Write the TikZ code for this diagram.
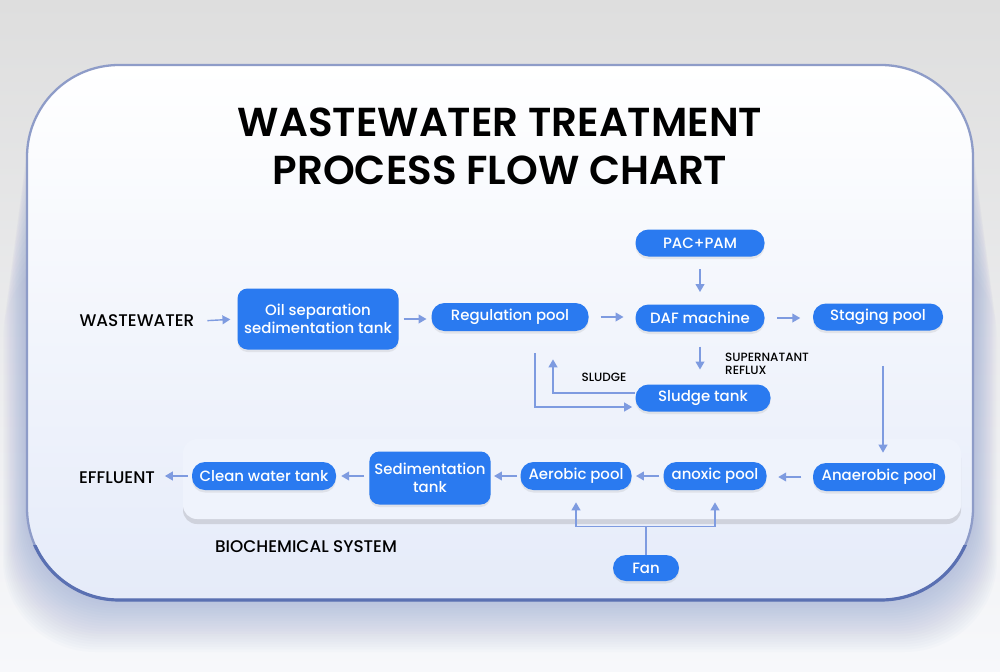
\documentclass[tikz,border=0pt]{standalone}
\usepackage{fontspec}
\setmainfont{Poppins}[UprightFont=* Medium, BoldFont=* SemiBold]
\usetikzlibrary{shadows,arrows.meta,calc}

\definecolor{boxblue}{HTML}{2A7AF0}
\definecolor{flowline}{HTML}{7E9BE0}
\definecolor{cardedge}{HTML}{8E9CC8}
\definecolor{cardfoot}{HTML}{5A70B2}
\definecolor{cardlow}{HTML}{E5EBF9}
\definecolor{glow}{HTML}{6F86C2}
\definecolor{panelfill}{HTML}{EFF3FC}
\definecolor{bgtop}{HTML}{DEDEDE}
\definecolor{bgbottom}{HTML}{F7F8FB}

\tikzset{
  stage/.style={fill=boxblue, text=white, rounded corners=2.6mm,
    minimum height=5.4mm, inner sep=1mm, align=center,
    font=\fontsize{8.5}{10.5}\selectfont,
    drop shadow={opacity=0.15, shadow xshift=0pt, shadow yshift=-0.5mm}},
  bigstage/.style={stage, rounded corners=2mm},
  tag/.style={font=\fontsize{9.6}{11}\selectfont, text=black},
  flow/.style={flowline, line width=0.8pt, -{Triangle[width=5pt,length=4.5pt]}},
  pipe/.style={flowline, line width=0.8pt}
}

% short arrow in the middle of the gap between two anchors
\newcommand{\gapflow}[2]{%
  \coordinate (mid) at ($(#1)!0.5!(#2)$);
  \draw[flow] ($(mid)!2.3mm!(#1)$) -- ($(mid)!2.3mm!(#2)$);}

\begin{document}
\begin{tikzpicture}[x=0.2mm, y=-0.2mm]
  \useasboundingbox (0,0) rectangle (1000,672);

  % backdrop and card
  \shade[top color=bgtop, bottom color=bgbottom] (0,0) rectangle (1000,672);
  \foreach \s in {1,...,20}
    \fill[glow, opacity=0.022, rounded corners=18.4mm]
      (27-\s*1.2, 65+\s*9) rectangle (973+\s*1.2, 600+\s*2.6);
  \shadedraw[top color=white, bottom color=cardlow, draw=cardedge,
    line width=1.3pt, rounded corners=18.4mm] (27,65) rectangle (973,600);
  \begin{scope}
    \clip (0,545) rectangle (1000,672);
    \draw[cardfoot, line width=1.8pt, rounded corners=18.4mm]
      (27,65) rectangle (973,600);
  \end{scope}

  \node[font=\fontsize{23}{27.5}\selectfont\bfseries, align=center] (title)
    at (500,146) {WASTEWATER TREATMENT\\PROCESS FLOW CHART};

  % biochemical system panel
  \path[fill=panelfill, rounded corners=2.8mm,
    drop shadow={opacity=0.22, shadow xshift=0pt, shadow yshift=-1mm,
      fill=black!55}]
    (183,439) rectangle (961,519);

  % first line
  \node[tag] (wastewater) at (137,321) {WASTEWATER};
  \node[bigstage, minimum width=32.2mm, minimum height=12.2mm] (oilsep)
    at (318,319) {Oil separation\\sedimentation tank};
  \node[stage, minimum width=31.4mm, minimum height=5.6mm] (regulation)
    at (510,317) {Regulation pool};
  \node[stage, minimum width=25.8mm] (daf) at (700,318) {DAF machine};
  \node[stage, minimum width=25.8mm] (pac) at (700,243) {PAC+PAM};
  \node[stage, minimum width=26mm] (staging) at (878,317) {Staging pool};
  \node[stage, minimum width=27mm] (sludge) at (703,398) {Sludge tank};

  % second line
  \node[stage, minimum width=26.4mm, minimum height=5.6mm] (anaerobic)
    at (879,477) {Anaerobic pool};
  \node[stage, minimum width=20.6mm, minimum height=5.6mm] (anoxic)
    at (715,476) {anoxic pool};
  \node[stage, minimum width=22.2mm, minimum height=5.6mm] (aerobic)
    at (576,476) {Aerobic pool};
  \node[bigstage, minimum width=24.2mm, minimum height=10.6mm] (sedim)
    at (430,478) {Sedimentation\\tank};
  \node[stage, minimum width=28.8mm, minimum height=5.6mm] (clean)
    at (264,476) {Clean water tank};
  \node[tag] (effluent) at (117,478) {EFFLUENT};
  \node[stage, minimum width=13.2mm, minimum height=5.2mm] (fan)
    at (646,568) {Fan};
  \node[tag] (biochem) at (306,547) {BIOCHEMICAL SYSTEM};

  \node[font=\fontsize{6.8}{7.6}\selectfont, align=left, anchor=west]
    (reflux) at (719,364) {SUPERNATANT\\REFLUX};
  \node[font=\fontsize{6.8}{8}\selectfont] (sludgetag) at (604,377) {SLUDGE};

  % arrows
  \gapflow{wastewater.east}{oilsep.west}
  \gapflow{oilsep.east}{oilsep.east -| regulation.west}
  \gapflow{regulation.east}{regulation.east -| daf.west}
  \gapflow{daf.east}{daf.east -| staging.west}
  \gapflow{pac.south}{daf.north}
  \gapflow{daf.south}{daf.south |- sludge.north}
  \draw[flow, shorten <=7mm, shorten >=2mm]
    ([xshift=1mm]staging.south) -- ([xshift=1mm]staging.south |- anaerobic.north);
  \gapflow{anaerobic.west}{anaerobic.west -| anoxic.east}
  \gapflow{anoxic.west}{anoxic.west -| aerobic.east}
  \gapflow{aerobic.west}{aerobic.west -| sedim.east}
  \gapflow{sedim.west |- clean.east}{clean.east}
  \gapflow{clean.west}{clean.west -| effluent.east}

  % sludge loop
  \draw[flow, shorten <=4.4mm, shorten >=0.6mm]
    ([xshift=5mm]regulation.south) |- ([yshift=-1.8mm]sludge.west);
  \draw[flow, shorten >=5.6mm]
    ([yshift=1mm]sludge.west) -| ([xshift=8.6mm]regulation.south);

  % fan
  \draw[pipe] (fan.north) -- ++(0,-28) coordinate (fork);
  \draw[flow, shorten >=2.4mm] (fork) -| (aerobic.south);
  \draw[flow, shorten >=2.4mm] (fork) -| (anoxic.south);
\end{tikzpicture}
\end{document}
